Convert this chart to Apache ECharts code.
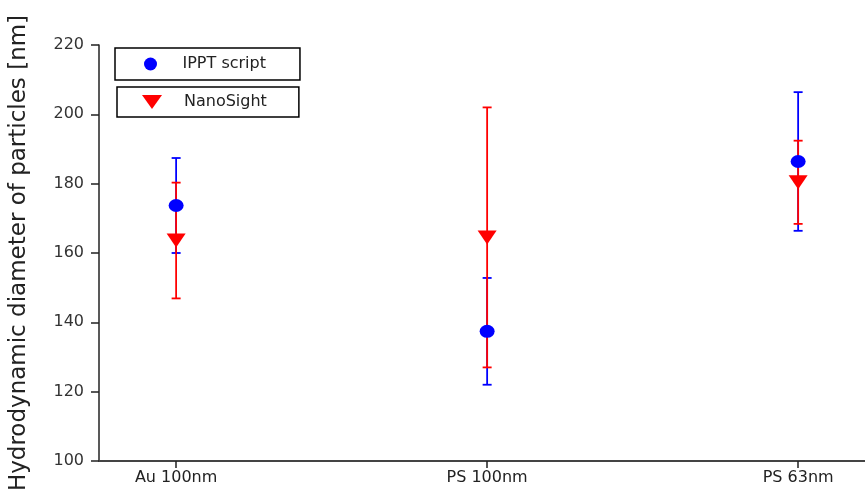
<!DOCTYPE html>
<html>
<head>
<meta charset="utf-8">
<script src="https://cdn.jsdelivr.net/npm/echarts@6/dist/echarts.min.js"></script>
<style>html,body{margin:0;padding:0;background:#fff}#c{width:865px;height:497px}</style>
</head>
<body>
<div id="c"></div>
<script>
const categories = ['Au 100nm', 'PS 100nm', 'PS 63nm'];
const categoryPos = [1, 2, 3];
const ipptMean = [173.7, 137.4, 186.4];
const ipptErr = [13.7, 15.4, 20.0];
const nanoMean = [163.6, 164.5, 180.4];
const nanoErr = [16.7, 37.5, 12.0];
const yTicks = [100, 120, 140, 160, 180, 200, 220];

const FONT = 'DejaVu Sans';
const chart = echarts.init(document.getElementById('c'));

function errData(means, errs) {
  return categoryPos.map((x, i) => [x, means[i], errs[i]]);
}
function ptData(means) {
  return categoryPos.map((x, i) => [x, means[i]]);
}
function errRender(color) {
  return function (params, api) {
    const x = api.value(0), v = api.value(1), e = api.value(2);
    const top = api.coord([x, v + e]);
    const bot = api.coord([x, v - e]);
    const hw = 4.5;
    const st = { stroke: color, lineWidth: 1.8 };
    return {
      type: 'group',
      children: [
        { type: 'line', shape: { x1: top[0], y1: top[1], x2: bot[0], y2: bot[1] }, style: st },
        { type: 'line', shape: { x1: top[0] - hw, y1: top[1], x2: top[0] + hw, y2: top[1] }, style: st },
        { type: 'line', shape: { x1: bot[0] - hw, y1: bot[1], x2: bot[0] + hw, y2: bot[1] }, style: st }
      ]
    };
  };
}

const downTri = 'path://M0,0L20,0L10,14Z';

chart.setOption({
  backgroundColor: '#fff',
  animation: false,
  grid: { left: 98, right: 0, top: 45, bottom: 36 },
  legend: [
    {
      data: [{ name: 'IPPT script', icon: 'circle' }],
      left: 115, top: 48,
      orient: 'vertical',
      itemWidth: 54, itemHeight: 13,
      padding: [8, 34, 8, 29],
      borderColor: '#000', borderWidth: 1.5,
      itemStyle: { opacity: 1 },
      textStyle: { fontFamily: FONT, fontSize: 16, color: '#222' }
    },
    {
      data: [{ name: 'NanoSight', icon: downTri }],
      left: 117, top: 87,
      orient: 'vertical',
      itemWidth: 54, itemHeight: 14,
      padding: [7, 32, 7, 25],
      borderColor: '#000', borderWidth: 1.5,
      itemStyle: { opacity: 1 },
      textStyle: { fontFamily: FONT, fontSize: 16, color: '#222' }
    }
  ],
  xAxis: {
    type: 'value',
    min: 0.752, max: 3.215,
    axisLine: { show: true, onZero: false, lineStyle: { color: '#444', width: 2 } },
    axisTick: { show: true, customValues: categoryPos, length: 7, lineStyle: { color: '#222', width: 1.5 } },
    axisLabel: {
      customValues: categoryPos,
      formatter: v => categories[Math.round(v) - 1] || '',
      margin: 9,
      fontFamily: FONT, fontSize: 16, color: '#222'
    },
    splitLine: { show: false }
  },
  yAxis: {
    type: 'value',
    min: 100, max: 220, interval: 20,
    name: 'Hydrodynamic diameter of particles [nm]',
    nameLocation: 'middle',
    nameGap: 68,
    nameTextStyle: { fontFamily: FONT, fontSize: 23, color: '#222' },
    axisLine: { show: true, lineStyle: { color: '#222', width: 1.5 } },
    axisTick: { show: true, length: 8, lineStyle: { color: '#222', width: 1.5 } },
    axisLabel: {
      margin: 15,
      fontFamily: FONT, fontSize: 16, color: '#333',
      formatter: v => (yTicks.indexOf(v) >= 0 ? String(v) : '')
    },
    splitLine: { show: false }
  },
  series: [
    {
      name: 'IPPT script err', type: 'custom', renderItem: errRender('#0000ff'),
      data: errData(ipptMean, ipptErr), z: 2, silent: true,
      encode: { x: 0, y: [1] }
    },
    {
      name: 'NanoSight err', type: 'custom', renderItem: errRender('#ff0000'),
      data: errData(nanoMean, nanoErr), z: 3, silent: true,
      encode: { x: 0, y: [1] }
    },
    {
      name: 'IPPT script', type: 'scatter', symbol: 'circle', symbolSize: [15, 13],
      itemStyle: { color: '#0000ff', opacity: 1 }, data: ptData(ipptMean), z: 4
    },
    {
      name: 'NanoSight', type: 'scatter', symbol: downTri, symbolSize: [19, 14],
      itemStyle: { color: '#ff0000', opacity: 1 }, data: ptData(nanoMean), z: 5
    }
  ]
});
</script>
</body>
</html>
